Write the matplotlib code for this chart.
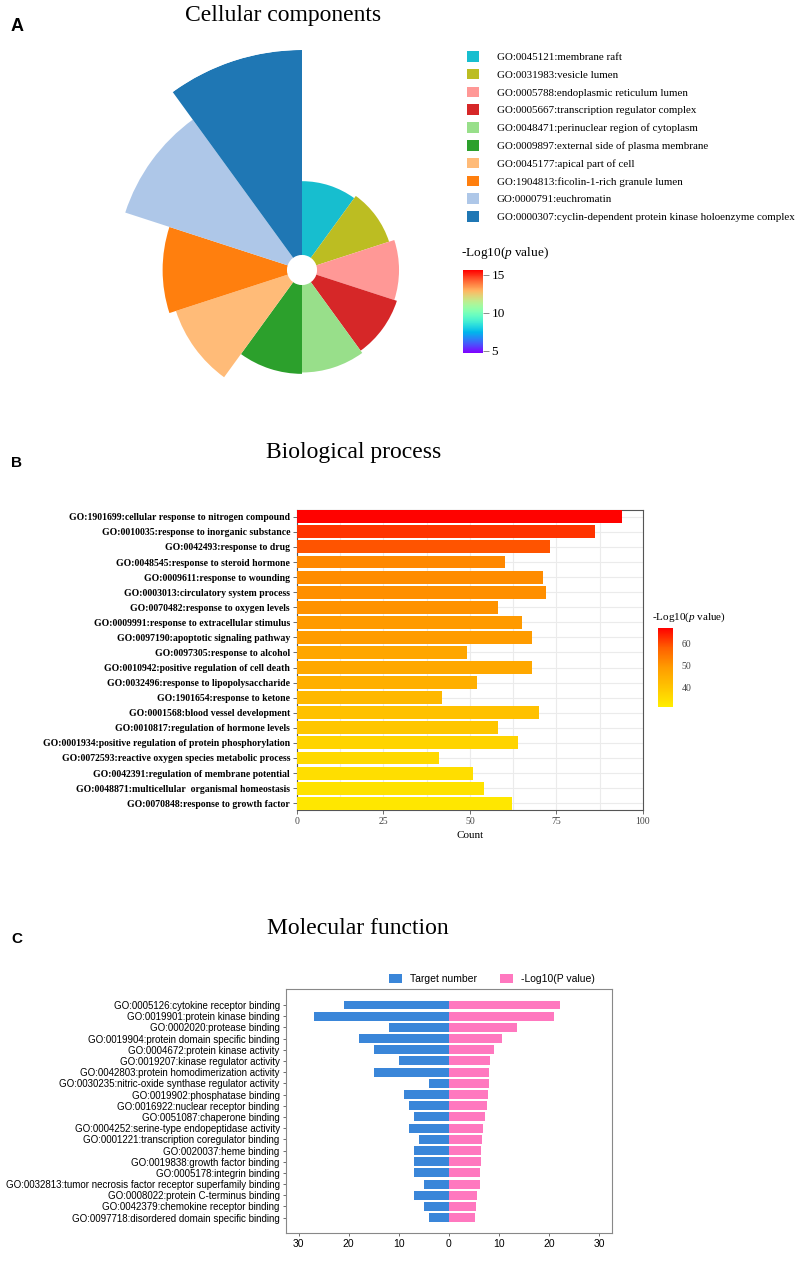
import matplotlib
matplotlib.use('Agg')
import matplotlib.pyplot as plt
import numpy as np
from matplotlib.colors import LinearSegmentedColormap, Normalize
from matplotlib.cm import ScalarMappable
from matplotlib.patches import Patch

plt.rcParams['mathtext.fontset'] = 'custom'
plt.rcParams['mathtext.rm'] = 'Liberation Serif'
plt.rcParams['mathtext.it'] = 'Liberation Serif:italic'

SERIF = 'Liberation Serif'
SANS = 'Liberation Sans'

# ---------------- Data ----------------
cc_terms = [
    "GO:0045121:membrane raft",
    "GO:0031983:vesicle lumen",
    "GO:0005788:endoplasmic reticulum lumen",
    "GO:0005667:transcription regulator complex",
    "GO:0048471:perinuclear region of cytoplasm",
    "GO:0009897:external side of plasma membrane",
    "GO:0045177:apical part of cell",
    "GO:1904813:ficolin-1-rich granule lumen",
    "GO:0000791:euchromatin",
    "GO:0000307:cyclin-dependent protein kinase holoenzyme complex",
]
cc_values = [5.4, 5.6, 6.0, 6.2, 6.4, 6.5, 8.6, 9.1, 12.5, 15.0]
cc_colors = ['#17becf', '#bcbd22', '#ff9896', '#d62728', '#98df8a',
             '#2ca02c', '#ffbb78', '#ff7f0e', '#aec7e8', '#1f77b4']
cc_hole = 1.1
cc_cbar_ticks = [5, 10, 15]

bp_terms = [
    "GO:1901699:cellular response to nitrogen compound",
    "GO:0010035:response to inorganic substance",
    "GO:0042493:response to drug",
    "GO:0048545:response to steroid hormone",
    "GO:0009611:response to wounding",
    "GO:0003013:circulatory system process",
    "GO:0070482:response to oxygen levels",
    "GO:0009991:response to extracellular stimulus",
    "GO:0097190:apoptotic signaling pathway",
    "GO:0097305:response to alcohol",
    "GO:0010942:positive regulation of cell death",
    "GO:0032496:response to lipopolysaccharide",
    "GO:1901654:response to ketone",
    "GO:0001568:blood vessel development",
    "GO:0010817:regulation of hormone levels",
    "GO:0001934:positive regulation of protein phosphorylation",
    "GO:0072593:reactive oxygen species metabolic process",
    "GO:0042391:regulation of membrane potential",
    "GO:0048871:multicellular  organismal homeostasis",
    "GO:0070848:response to growth factor",
]
bp_count = [94, 86, 73, 60, 71, 72, 58, 65, 68, 49, 68, 52, 42, 70, 58, 64, 41, 51, 54, 62]
bp_logp = [66.5, 62, 59, 52, 51.5, 51, 50.5, 49.5, 49, 47, 46.5, 45, 43, 41, 40, 37, 36, 35, 34, 33]
bp_xticks = [0, 25, 50, 75, 100]
bp_cbar_ticks = [40, 50, 60]

mf_terms = [
    "GO:0005126:cytokine receptor binding",
    "GO:0019901:protein kinase binding",
    "GO:0002020:protease binding",
    "GO:0019904:protein domain specific binding",
    "GO:0004672:protein kinase activity",
    "GO:0019207:kinase regulator activity",
    "GO:0042803:protein homodimerization activity",
    "GO:0030235:nitric-oxide synthase regulator activity",
    "GO:0019902:phosphatase binding",
    "GO:0016922:nuclear receptor binding",
    "GO:0051087:chaperone binding",
    "GO:0004252:serine-type endopeptidase activity",
    "GO:0001221:transcription coregulator binding",
    "GO:0020037:heme binding",
    "GO:0019838:growth factor binding",
    "GO:0005178:integrin binding",
    "GO:0032813:tumor necrosis factor receptor superfamily binding",
    "GO:0008022:protein C-terminus binding",
    "GO:0042379:chemokine receptor binding",
    "GO:0097718:disordered domain specific binding",
]
mf_target = [21, 27, 12, 18, 15, 10, 15, 4, 9, 8, 7, 8, 6, 7, 7, 7, 5, 7, 5, 4]
mf_logp = [22.1, 20.9, 13.5, 10.5, 8.9, 8.1, 8.0, 7.9, 7.7, 7.5, 7.1, 6.8, 6.6,
           6.3, 6.3, 6.2, 6.2, 5.5, 5.4, 5.2]
mf_xticks = [-30, -20, -10, 0, 10, 20, 30]
mf_series = ["Target number", "-Log10(P value)"]

# ---------------- Figure ----------------
W, H = 803, 1266
fig = plt.figure(figsize=(W / 100, H / 100), dpi=100)


def rect(l, t, r, b):
    return [l / W, 1 - b / H, (r - l) / W, (b - t) / H]


def fx(x):
    return x / W


def fy(y):
    return 1 - y / H


# Panel letters
for lab, yy, fs in [("A", 31, 13), ("B", 467, 11), ("C", 943, 11)]:
    fig.text(fx(11), fy(yy), lab, family=SANS, weight='bold', fontsize=fs,
             ha='left', va='baseline')

# ---------------- Panel A ----------------
fig.text(fx(283), fy(21), "Cellular components", family=SERIF, fontsize=17,
         ha='center', va='baseline')

axA = fig.add_axes(rect(82, 50, 522, 490), projection='polar')
n = len(cc_values)
wd = 2 * np.pi / n
theta = np.arange(n) * wd
axA.bar(theta, cc_values, width=wd, bottom=cc_hole, align='edge',
        color=cc_colors, edgecolor='none')
axA.set_theta_zero_location('N')
axA.set_theta_direction(-1)
axA.set_ylim(0, max(cc_values) + cc_hole)
axA.axis('off')

handles = [Patch(facecolor=c, edgecolor='none', label=t) for c, t in zip(cc_colors, cc_terms)]
fig.legend(handles=handles, loc='upper left', bbox_to_anchor=(fx(467), fy(51)),
           frameon=False, prop={'family': SERIF, 'size': 7.9},
           handlelength=1.1, handleheight=1.1, handletextpad=1.6,
           labelspacing=0.62, borderpad=0, borderaxespad=0)

fig.text(fx(461), fy(256), "-Log10($\\it{p}$ value)", family=SERIF, fontsize=9.5,
         ha='left', va='baseline')
caxA = fig.add_axes(rect(463, 270, 483, 353))
cbA = fig.colorbar(ScalarMappable(norm=Normalize(4.7, 15.6), cmap='rainbow'), cax=caxA)
cbA.outline.set_visible(False)
cbA.set_ticks(cc_cbar_ticks)
caxA.tick_params(length=4, width=0.6, color='#777777', labelsize=9.5, pad=2)
for t in caxA.get_yticklabels():
    t.set_family(SERIF)

# ---------------- Panel B ----------------
fig.text(fx(354), fy(458), "Biological process", family=SERIF, fontsize=17,
         ha='center', va='baseline')

cmapB = LinearSegmentedColormap.from_list(
    'yr', ['#ffee00', '#ffc400', '#ff9c00', '#ff6000', '#ff0000'])
normB = Normalize(31.5, 66.7)

axB = fig.add_axes(rect(297, 510, 643, 810))
yB = np.arange(len(bp_terms))
axB.barh(yB, bp_count, height=0.86, color=cmapB(normB(np.array(bp_logp))), zorder=3)
axB.set_xlim(0, 100)
axB.set_ylim(len(bp_terms) - 0.55, -0.45)
axB.set_yticks(yB)
axB.set_yticklabels(bp_terms, family=SERIF, weight='bold', fontsize=7)
axB.set_xticks(bp_xticks)
axB.set_xticks([12.5, 37.5, 62.5, 87.5], minor=True)
axB.set_xticklabels([str(v) for v in bp_xticks], family=SERIF, fontsize=7, color='#444444')
axB.grid(True, which='both', axis='x', color='#ebebeb', lw=0.8, zorder=0)
axB.grid(True, which='major', axis='y', color='#ebebeb', lw=0.8, zorder=0)
axB.set_axisbelow(True)
axB.tick_params(axis='both', which='major', length=3, width=0.6, color='#555555', pad=2)
axB.tick_params(axis='x', which='minor', length=0)
for s in axB.spines.values():
    s.set_color('#555555')
    s.set_linewidth(0.8)
axB.set_xlabel("Count", family=SERIF, fontsize=8, labelpad=4)

fig.text(fx(652), fy(620), "-Log10($\\it{p}$ value)", family=SERIF, fontsize=8,
         ha='left', va='baseline')
caxB = fig.add_axes(rect(658, 628, 673, 707))
cbB = fig.colorbar(ScalarMappable(norm=normB, cmap=cmapB), cax=caxB)
cbB.outline.set_visible(False)
cbB.set_ticks(bp_cbar_ticks)
caxB.tick_params(length=0, labelsize=7, pad=6, labelcolor='#444444')
for t in caxB.get_yticklabels():
    t.set_family(SERIF)

# ---------------- Panel C ----------------
fig.text(fx(358), fy(934), "Molecular function", family=SERIF, fontsize=17,
         ha='center', va='baseline')

axC = fig.add_axes(rect(286, 989, 612, 1233))
yC = np.arange(len(mf_terms))
bl = axC.barh(yC, -np.array(mf_target), height=0.8, color='#3a86d9', label=mf_series[0])
pk = axC.barh(yC, mf_logp, height=0.8, color='#ff78bf', label=mf_series[1])
axC.set_xlim(-32.5, 32.5)
axC.set_ylim(len(mf_terms) + 0.37, -1.43)
axC.set_yticks(yC)
axC.set_yticklabels(mf_terms, family=SANS, fontsize=7)
axC.set_xticks(mf_xticks)
axC.set_xticklabels([str(abs(v)) for v in mf_xticks], family=SANS, fontsize=7.5)
axC.tick_params(axis='both', length=2.5, width=0.6, color='#555555', pad=2)
for s in axC.spines.values():
    s.set_color('#888888')
    s.set_linewidth(0.8)

fig.legend(handles=[bl, pk], loc='center', bbox_to_anchor=(fx(492), fy(979)),
           ncol=2, frameon=False, prop={'family': SANS, 'size': 7.5},
           handlelength=1.2, handleheight=1.0, handletextpad=0.8,
           columnspacing=2.2, borderpad=0, borderaxespad=0)

fig.savefig('out.png', dpi=100)
